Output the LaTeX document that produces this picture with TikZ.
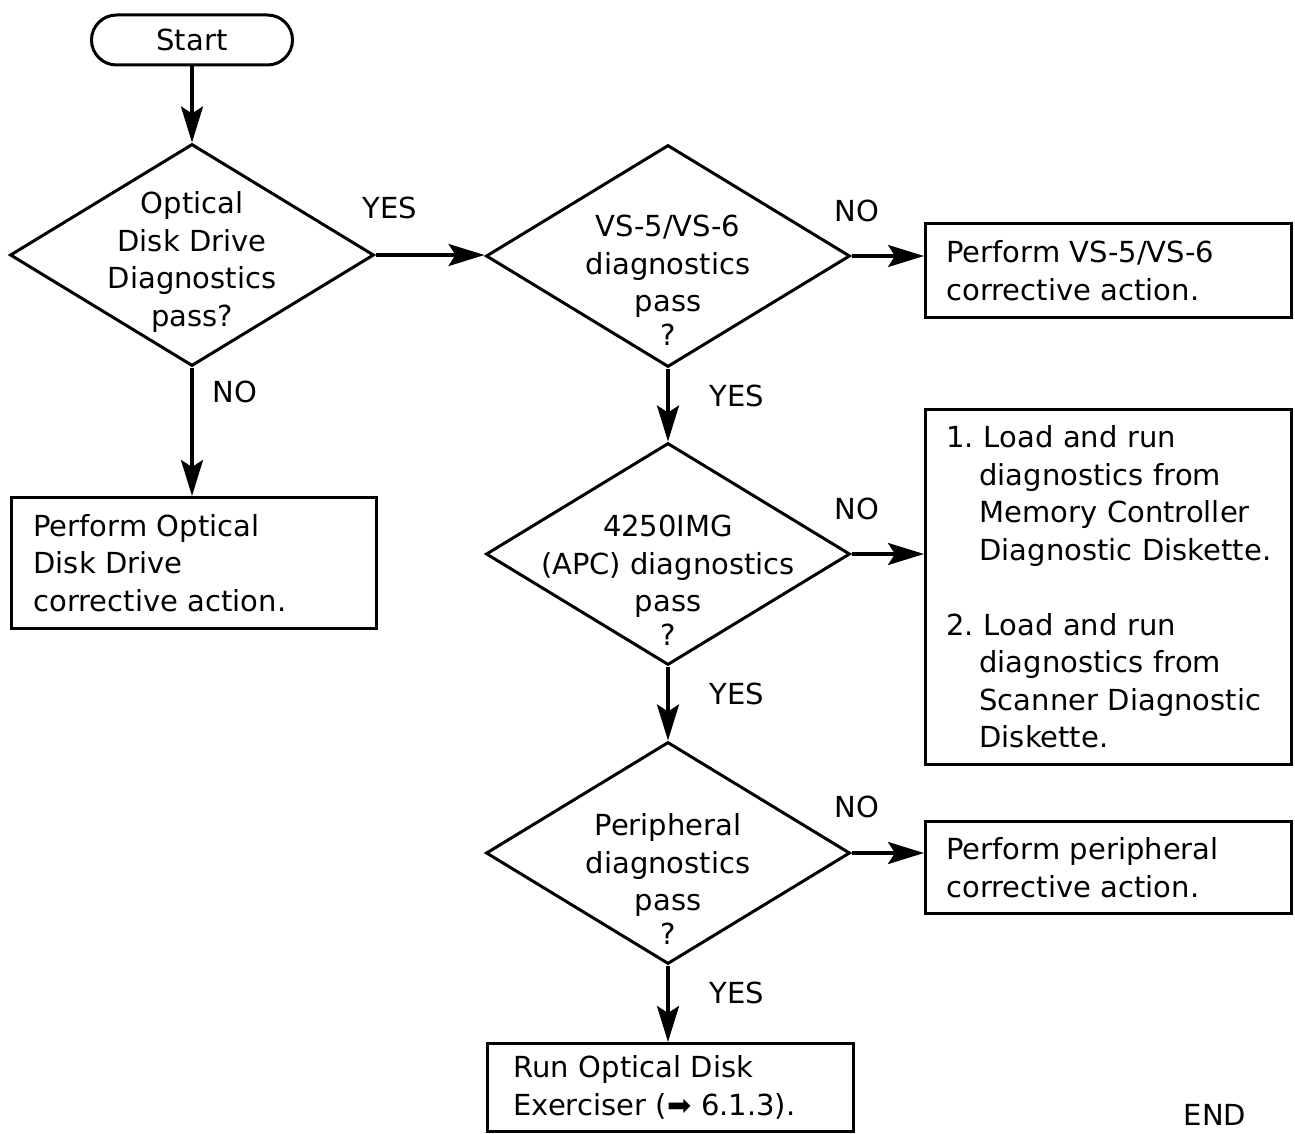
\documentclass[tikz,border=0pt]{standalone}
\usepackage{fontspec}
\setmainfont{DejaVu Sans}
\usetikzlibrary{shapes.geometric,arrows.meta}
\begin{document}
\begin{tikzpicture}[x=1pt,y=-1pt,
 every node/.style={font=\fontsize{29}{37.5}\selectfont},
 box/.style={draw,line width=3pt,rectangle,align=left,inner xsep=20pt,inner ysep=0pt,anchor=north west},
 dia/.style={draw,line width=3pt,diamond,inner sep=0pt,minimum width=364pt,minimum height=222pt},
 dtext/.style={align=center,inner sep=0pt},
 flow/.style={line width=3.5pt,-{Stealth[length=36pt,width=22pt,inset=7pt]}},
 lbl/.style={inner sep=0pt}
]
\useasboundingbox (0,0) rectangle (1295,1134);
\fill[white] (0,0) rectangle (1295,1134);

% start
\node[draw,line width=3pt,rectangle,rounded corners=25pt,minimum width=201pt,minimum height=50pt] (start) at (192,40) {Start};

% diamonds
\node[dia] (d1) at (192,255) {};
\node[dtext] (t1) at (192,262) {Optical\\Disk Drive\\Diagnostics\\pass?};
\node[dia] (d2) at (668,256) {};
\node[dtext] (t2) at (668,280) {VS-5/VS-6\\diagnostics\\pass\\[-4pt]?};
\node[dia] (d3) at (668,554) {};
\node[dtext] (t3) at (668,580) {4250IMG\\(APC) diagnostics\\pass\\[-4pt]?};
\node[dia] (d4) at (668,853) {};
\node[dtext] (t4) at (668,879) {Peripheral\\diagnostics\\pass\\[-4pt]?};

% boxes
\node[box,minimum width=366pt,minimum height=94pt,text width=324pt] (b3) at (924,222) {Perform VS-5/VS-6\\corrective action.};
\node[box,minimum width=365pt,minimum height=131pt,text width=321pt,inner xsep=21pt] (b2) at (10,496) {Perform Optical\\Disk Drive\\corrective action.};
\node[box,minimum width=366pt,minimum height=355pt,text width=324pt] (b4) at (924,408) {\mbox{1.~Load and run}\\\mbox{\hspace*{33pt}diagnostics from}\\\mbox{\hspace*{33pt}Memory Controller}\\\mbox{\hspace*{33pt}Diagnostic Diskette.}\\[37.5pt]\mbox{2.~Load and run}\\\mbox{\hspace*{33pt}diagnostics from}\\\mbox{\hspace*{33pt}Scanner Diagnostic}\\\mbox{\hspace*{33pt}Diskette.}};
\node[box,minimum width=366pt,minimum height=92pt,text width=324pt] (b5) at (924,820) {Perform peripheral\\corrective action.};
\node[box,minimum width=366pt,minimum height=88pt,text width=314pt,inner xsep=25pt] (b6) at (486,1042) {Run Optical Disk\\Exerciser (➡ 6.1.3).};

% connectors
\draw[flow] (start.south) -- (d1.north);
\draw[flow] (d1.east) -- (d1.east -| d2.west);
\draw[flow] (d2.east) -- (d2.east -| b3.west);
\draw[flow] (d1.south) -- (d1.south |- b2.north);
\draw[flow] (d2.south) -- (d3.north);
\draw[flow] (d3.east) -- (d3.east -| b4.west);
\draw[flow] (d3.south) -- (d4.north);
\draw[flow] (d4.east) -- (d4.east -| b5.west);
\draw[flow] (d4.south) -- (d4.south |- b6.north);

% labels
\node[lbl] (y1) at (390,208) {YES};
\node[lbl] (n1) at (857,211) {NO};
\node[lbl] (n2) at (235,392) {NO};
\node[lbl] (y2) at (737,396) {YES};
\node[lbl] (n3) at (857,509) {NO};
\node[lbl] (y3) at (737,694) {YES};
\node[lbl] (n4) at (857,807) {NO};
\node[lbl] (y4) at (737,993) {YES};
\node[lbl,anchor=north] (endlbl) at (1215,1104) {END};
\end{tikzpicture}
\end{document}
